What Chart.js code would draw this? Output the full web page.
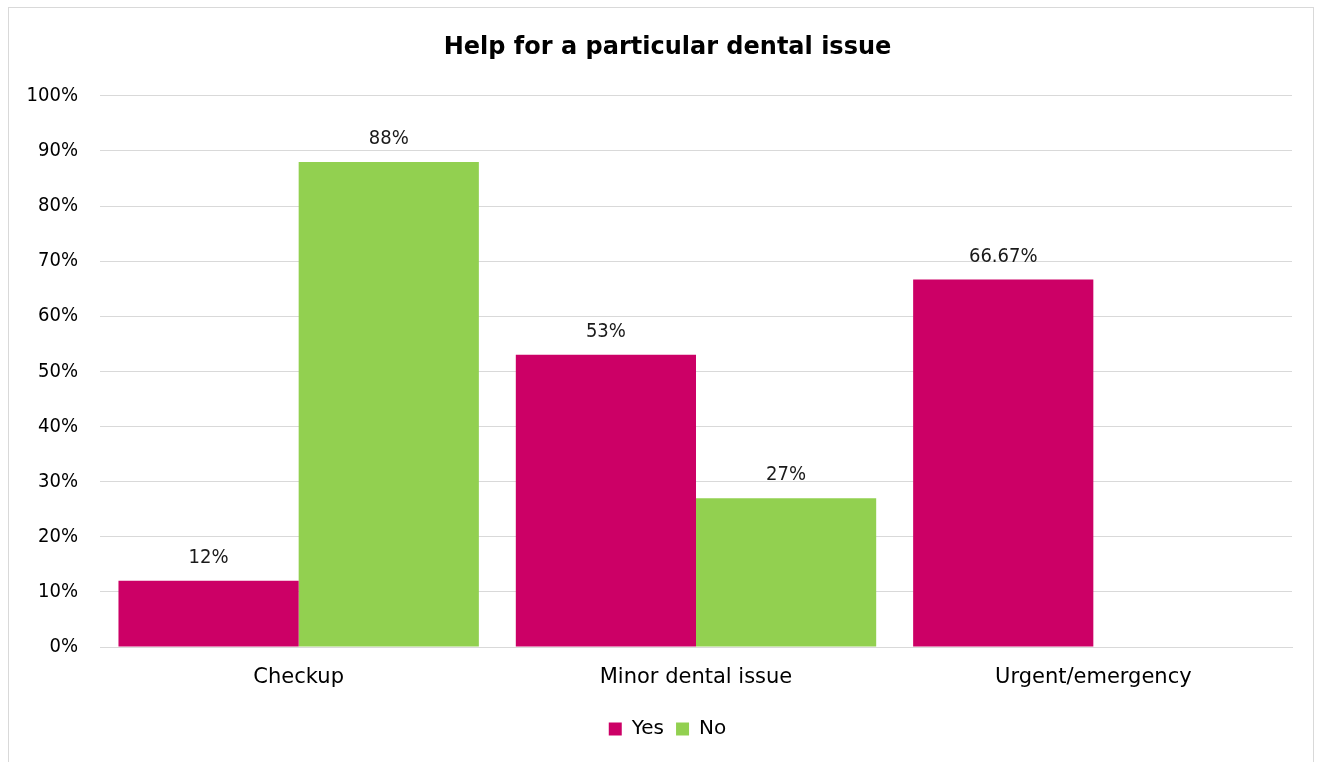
<!DOCTYPE html>
<html>
<head>
<meta charset="utf-8">
<script src="https://cdn.jsdelivr.net/npm/chart.js@4"></script>
<style>
  html, body { margin: 0; padding: 0; background: #fff; overflow: hidden; }
  #frame {
    position: absolute; left: 8px; top: 7px;
    width: 1306px; height: 760px;
    border: 1px solid #d9d9d9; box-sizing: border-box;
  }
  #chartBox { position: absolute; left: 0; top: 0; width: 1303px; height: 755px; }
</style>
</head>
<body>
<div id="frame"><div id="chartBox"><canvas id="myChart"></canvas></div></div>
<script>
// Categories and values (percent)
const categories = ['Checkup', 'Minor dental issue', 'Urgent/emergency'];
const yesValues = [12, 53, 66.67];
const noValues = [88, 27, null];
const yTicks = [0, 10, 20, 30, 40, 50, 60, 70, 80, 90, 100];

const FONT = "'DejaVu Sans', sans-serif";
const NUM_FONT = "'DejaVu Sans Condensed', 'DejaVu Sans', sans-serif";

// Draw the value above each bar
const barLabels = {
  id: 'barLabels',
  afterDatasetsDraw(chart) {
    const ctx = chart.ctx;
    ctx.save();
    ctx.font = '20px ' + NUM_FONT;
    ctx.fillStyle = '#1a1a1a';
    ctx.textAlign = 'center';
    ctx.textBaseline = 'bottom';
    chart.data.datasets.forEach((ds, i) => {
      chart.getDatasetMeta(i).data.forEach((bar, j) => {
        const v = ds.data[j];
        if (v === null || v === undefined) return;
        ctx.fillText(v + '%', bar.x, bar.y - 13);
      });
    });
    ctx.restore();
  }
};

const ctx = document.getElementById('myChart').getContext('2d');

const data = {
  labels: categories,
  datasets: [
    { label: 'Yes', data: yesValues, backgroundColor: '#CC0066' },
    { label: 'No', data: noValues, backgroundColor: '#92D050' }
  ]
};

const config = {
  type: 'bar',
  data: data,
  plugins: [barLabels],
  options: {
    responsive: true,
    maintainAspectRatio: false,
    animation: false,
    categoryPercentage: 0.907,
    barPercentage: 1.0,
    layout: { padding: { left: 34, right: 20, top: 25, bottom: 14 } },
    plugins: {
      title: {
        display: true,
        text: 'Help for a particular dental issue',
        color: '#000',
        font: { family: FONT, size: 24, weight: 'bold' },
        padding: { top: 0, bottom: 34 }
      },
      legend: {
        position: 'bottom',
        labels: {
          color: '#000',
          font: { family: FONT, size: 20 },
          boxWidth: 13,
          boxHeight: 13,
          padding: 12
        }
      },
      tooltip: { enabled: false }
    },
    scales: {
      x: {
        grid: { display: false },
        border: { color: '#d9d9d9', width: 1 },
        ticks: { color: '#000', font: { family: FONT, size: 21 }, padding: 10 },
        afterFit(scale) { scale.height = 60; }
      },
      y: {
        min: 0,
        max: 100,
        afterBuildTicks(scale) { scale.ticks = yTicks.map(v => ({ value: v })); },
        grid: { color: '#d9d9d9', drawTicks: false },
        border: { display: false },
        ticks: {
          color: '#000',
          font: { family: NUM_FONT, size: 20 },
          padding: 22,
          callback: v => v + '%'
        },
        afterFit(scale) {
          scale.width = 57;
          // labels reach into the left padding, so don't clip them to the axis box
          scale._computeLabelArea = () => undefined;
        }
      }
    }
  }
};

const myChart = new Chart(ctx, config);
</script>
</body>
</html>
